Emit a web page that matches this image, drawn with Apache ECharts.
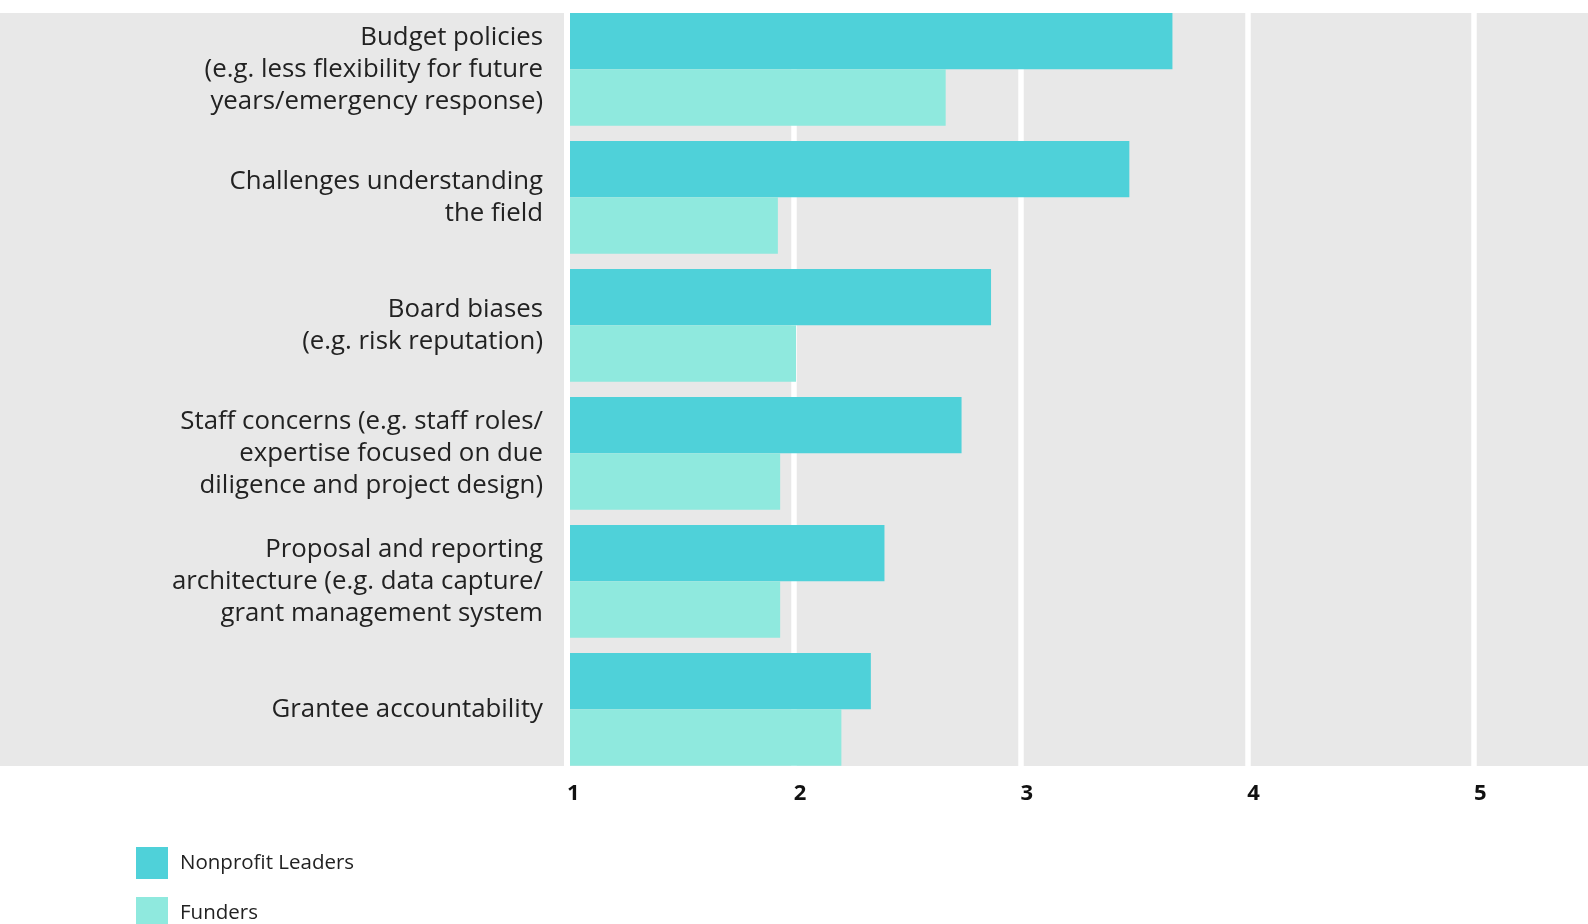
<!DOCTYPE html>
<html>
<head>
<meta charset="utf-8">
<script src="https://cdn.jsdelivr.net/npm/echarts@6/dist/echarts.min.js"></script>
<style>html,body{margin:0;padding:0;background:#fff}#c{width:1588px;height:924px}</style>
</head>
<body>
<div id="c"></div>
<script>
const categories = [
  "Budget policies\n(e.g. less flexibility for future\nyears/emergency response)",
  "Challenges understanding\nthe field",
  "Board biases\n(e.g. risk reputation)",
  "Staff concerns (e.g. staff roles/\nexpertise focused on due\ndiligence and project design)",
  "Proposal and reporting\narchitecture (e.g. data capture/\ngrant management system",
  "Grantee accountability"
];
const seriesNames = ["Nonprofit Leaders", "Funders"];
const leaders = [3.67, 3.48, 2.87, 2.74, 2.40, 2.34];
const funders = [2.67, 1.93, 2.01, 1.94, 1.94, 2.21];
const xTicks = [1, 2, 3, 4, 5];

const chart = echarts.init(document.getElementById('c'), null, {renderer: 'canvas'});
const FONT = '"Open Sans"';
chart.setOption({
  animation: false,
  backgroundColor: '#ffffff',
  graphic: [{
    type: 'rect', z: -10, silent: true,
    shape: {x: 0, y: 13, width: 1588, height: 753},
    style: {fill: '#e8e8e8'}
  }],
  grid: {left: 567, right: 0.6, top: 5.35, bottom: 150.65, containLabel: false},
  legend: {
    orient: 'vertical', left: 131, top: 842, height: 160,
    itemWidth: 32, itemHeight: 32, itemGap: 18,
    icon: 'rect',
    textStyle: {fontFamily: FONT, fontSize: 20.5, color: '#222', padding: [0, 0, 0, 7]},
    data: seriesNames
  },
  xAxis: {
    type: 'value', min: 1, max: 5.5, interval: 1,
    axisLine: {show: false}, axisTick: {show: false},
    splitLine: {show: true, showMaxLine: false, lineStyle: {color: '#ffffff', width: 5.5}},
    axisLabel: {
      showMaxLabel: false,
      fontFamily: FONT, fontSize: 22, fontWeight: 'bold', color: '#111',
      margin: 9, align: 'left', padding: [0, 0, 0, 0],
      formatter: v => xTicks.indexOf(v) >= 0 ? String(v) : ''
    }
  },
  yAxis: {
    type: 'category', data: categories, inverse: true,
    axisLine: {show: false}, axisTick: {show: false}, splitLine: {show: false},
    axisLabel: {
      fontFamily: FONT, fontSize: 25.8, color: '#222', lineHeight: 31.8,
      margin: 24, align: 'right'
    }
  },
  series: [
    {
      name: seriesNames[0], type: 'bar', data: leaders,
      barWidth: 56.35, barGap: '0%',
      itemStyle: {color: '#4fd1d9'}
    },
    {
      name: seriesNames[1], type: 'bar', data: funders,
      barWidth: 56.35, barGap: '0%',
      itemStyle: {color: '#8fe9de'},
      markLine: {
        silent: true, symbol: 'none', label: {show: false},
        lineStyle: {color: '#ffffff', width: 6, type: 'solid'},
        data: [{xAxis: xTicks[0]}]
      }
    }
  ]
});
</script>
</body>
</html>
